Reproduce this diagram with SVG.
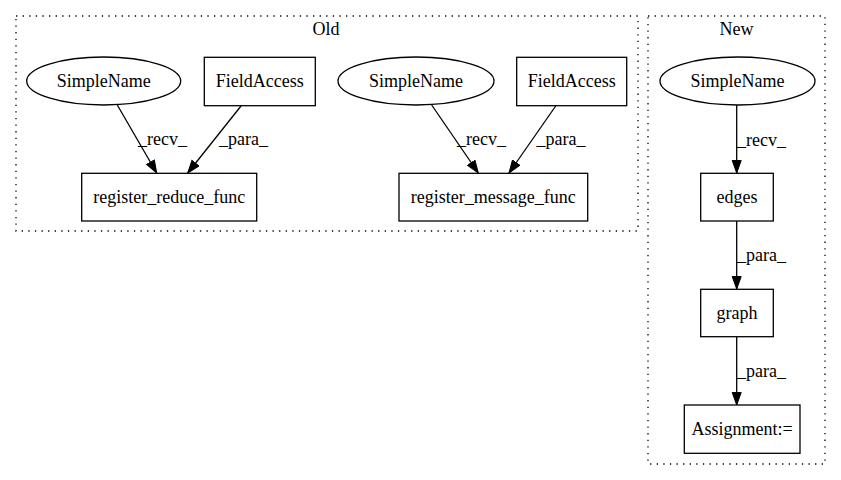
<svg xmlns="http://www.w3.org/2000/svg" width="841" height="480" viewBox="0 0 841 480">
<style>
text{font-family:"Liberation Serif","Times New Roman",serif;font-size:18px;fill:#000}
.c{text-anchor:middle}
.n{fill:none;stroke:#000;stroke-width:1.3}
.cl{fill:none;stroke:#000;stroke-width:1.3;stroke-dasharray:1.3,5.3}
.e{fill:none;stroke:#000;stroke-width:1.3;marker-end:url(#ah)}
</style>
<defs>
<marker id="ah" markerUnits="userSpaceOnUse" markerWidth="14" markerHeight="12" refX="13" refY="5" orient="auto">
<path d="M0.5,0.5 L13,5 L0.5,9.5 Z" fill="#000" stroke="#000" stroke-width="1"/>
</marker>
</defs>
<rect width="841" height="480" fill="#fff"/>
<g id="cluster_old">
<rect class="cl" x="16" y="16" width="622" height="215"/>
<text class="c" x="326" y="35">Old</text>
</g>
<g id="cluster_new">
<rect class="cl" x="648" y="16" width="177" height="448"/>
<text class="c" x="736.5" y="35">New</text>
</g>
<g id="edges">
<path class="e" d="M117.3,105 L156.7,173"/>
<text x="138" y="145">_recv_</text>
<path class="e" d="M241,106 L187.7,173"/>
<text x="219" y="145">_para_</text>
<path class="e" d="M431.7,105 L478.3,173"/>
<text x="457" y="145">_recv_</text>
<path class="e" d="M555.7,106 L509,173"/>
<text x="536.5" y="145">_para_</text>
<path class="e" d="M736.7,105 L736.7,173"/>
<text x="737" y="146">_recv_</text>
<path class="e" d="M736.7,221 L736.7,289"/>
<text x="737" y="261">_para_</text>
<path class="e" d="M736.7,337 L736.7,405"/>
<text x="737" y="377">_para_</text>
</g>
<g id="node_simplename1">
<ellipse class="n" cx="103.7" cy="81" rx="77" ry="24"/>
<text class="c" x="103.7" y="87">SimpleName</text>
</g>
<g id="node_fieldaccess1">
<rect class="n" x="204.3" y="57.3" width="111" height="48.4"/>
<text class="c" x="259.8" y="87">FieldAccess</text>
</g>
<g id="node_register_reduce_func">
<rect class="n" x="81.7" y="173.3" width="175" height="47.7"/>
<text class="c" x="169.2" y="203">register_reduce_func</text>
</g>
<g id="node_simplename2">
<ellipse class="n" cx="416" cy="81" rx="78" ry="24"/>
<text class="c" x="416" y="87">SimpleName</text>
</g>
<g id="node_fieldaccess2">
<rect class="n" x="516.7" y="57.3" width="110" height="48.4"/>
<text class="c" x="571.7" y="87">FieldAccess</text>
</g>
<g id="node_register_message_func">
<rect class="n" x="399" y="173.3" width="188.7" height="47.7"/>
<text class="c" x="493.3" y="203">register_message_func</text>
</g>
<g id="node_simplename3">
<ellipse class="n" cx="737.5" cy="81" rx="77.5" ry="24"/>
<text class="c" x="737.5" y="87">SimpleName</text>
</g>
<g id="node_edges">
<rect class="n" x="700.7" y="173.3" width="72.6" height="47.7"/>
<text class="c" x="737" y="203">edges</text>
</g>
<g id="node_graph">
<rect class="n" x="700.7" y="289.3" width="72.6" height="47.4"/>
<text class="c" x="737" y="319">graph</text>
</g>
<g id="node_assignment">
<rect class="n" x="684.3" y="405" width="115.7" height="48.3"/>
<text class="c" x="742.2" y="435">Assignment:=</text>
</g>
</svg>
